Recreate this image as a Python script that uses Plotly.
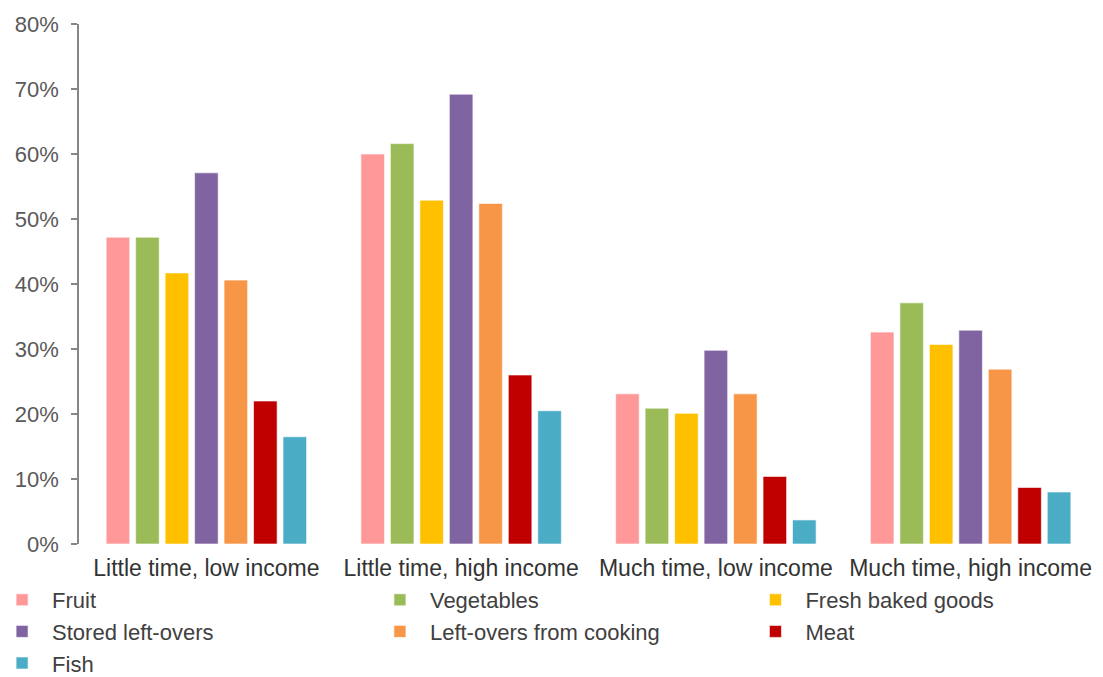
import plotly.graph_objects as go

# Household groups on the x axis
groups = [
    "Little time, low income",
    "Little time, high income",
    "Much time, low income",
    "Much time, high income",
]

# Share of households throwing away each food type (fraction)
fruit = [0.472, 0.600, 0.231, 0.326]
vegetables = [0.472, 0.616, 0.209, 0.371]
fresh_baked_goods = [0.417, 0.529, 0.201, 0.307]
stored_left_overs = [0.571, 0.692, 0.298, 0.329]
left_overs_cooking = [0.406, 0.524, 0.231, 0.269]
meat = [0.220, 0.260, 0.104, 0.087]
fish = [0.165, 0.205, 0.037, 0.080]

series = [
    ("Fruit", fruit, "#FF9999", "legend"),
    ("Vegetables", vegetables, "#9BBB59", "legend2"),
    ("Fresh baked goods", fresh_baked_goods, "#FFC000", "legend3"),
    ("Stored left-overs", stored_left_overs, "#8064A2", "legend"),
    ("Left-overs from cooking", left_overs_cooking, "#F79646", "legend2"),
    ("Meat", meat, "#C00000", "legend3"),
    ("Fish", fish, "#4BACC6", "legend"),
]

fig = go.Figure()
for name, values, color, leg in series:
    fig.add_trace(go.Bar(
        name=name,
        x=groups,
        y=values,
        marker=dict(color=color, line=dict(color="rgba(255,255,255,0.6)", width=1)),
        legend=leg,
    ))

font_family = "Liberation Sans, Arial, sans-serif"
legend_style = dict(
    orientation="v",
    yanchor="top",
    xanchor="left",
    y=-0.0673,
    bgcolor="rgba(0,0,0,0)",
    borderwidth=0,
    itemwidth=50,
    font=dict(family=font_family, size=22, color="#404040"),
    itemclick=False,
    itemdoubleclick=False,
)

fig.update_layout(
    width=1103,
    height=677,
    margin=dict(l=79, r=5, t=24, b=133, autoexpand=False),
    paper_bgcolor="white",
    plot_bgcolor="white",
    barmode="group",
    bargap=0.19,
    bargroupgap=0.2,
    font=dict(family=font_family, color="#404040"),
    legend=dict(legend_style, x=-0.0853),
    legend2=dict(legend_style, x=0.2855),
    legend3=dict(legend_style, x=0.654),
    xaxis=dict(
        showline=False,
        ticks="",
        showgrid=False,
        ticklabelstandoff=8,
        tickfont=dict(family=font_family, size=23, color="#333333"),
    ),
    yaxis=dict(
        range=[0, 0.8],
        dtick=0.1,
        tickformat=".0%",
        showgrid=False,
        zeroline=False,
        showline=True,
        linecolor="#868686",
        linewidth=1.5,
        ticks="outside",
        ticklen=6,
        tickwidth=1.5,
        tickcolor="#868686",
        ticklabelstandoff=8,
        tickfont=dict(family=font_family, size=22, color="#595959"),
    ),
)

fig.write_html("out.html")
